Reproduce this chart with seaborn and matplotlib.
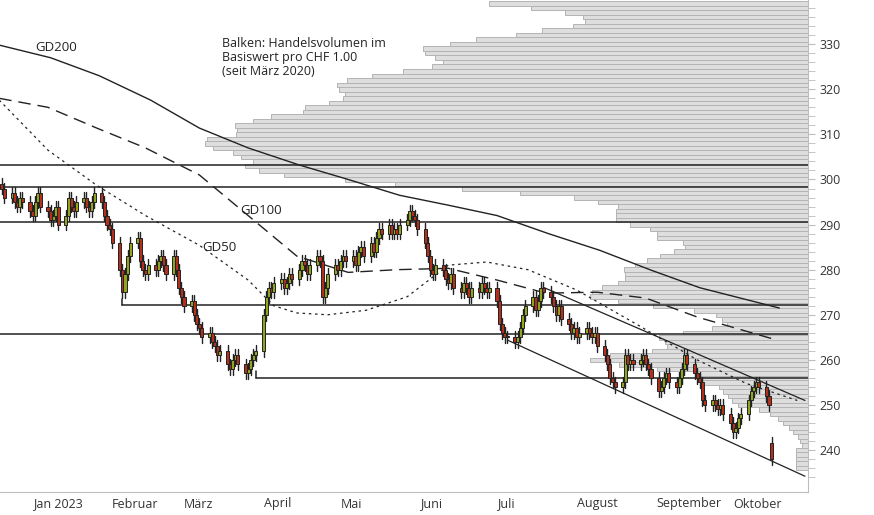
import numpy as np
import pandas as pd
import matplotlib
matplotlib.use("Agg")
import matplotlib.pyplot as plt
import matplotlib.dates as mdates
import matplotlib.transforms as mtrans
import seaborn as sns

# --- Tagesschlusskurse (ab 22.12.2022, Handelstage) ---
closes = [298, 296,
          297, 295, 294, 296, 295,
          293, 292, 295, 297, 294,
          293, 291, 292, 294, 290,
          292, 296, 294, 293, 295,
          296, 294, 293, 295, 297,
          295, 292, 290, 289, 286,
          280, 275, 279, 283, 286,
          287, 282, 280, 279, 281,
          280, 282, 283, 281, 279,
          283, 280, 276, 274, 272,
          273, 270, 268, 267, 265,
          266, 264, 263, 261, 262,
          259, 258, 260, 261, 259,
          257, 258, 260, 261, 262,
          270, 274, 276, 275, 277,
          278, 276, 277, 279, 278,
          280, 282, 281, 279, 281,
          283, 282, 274, 276, 279,
          281, 280, 282, 283, 282,
          283, 281, 284, 285, 283,
          286, 284, 287, 289, 288,
          290, 288, 289, 288, 290,
          291, 293, 292, 291, 289,
          286, 283, 280, 279, 281,
          280, 278, 277, 279, 276,
          275, 277, 276, 274, 276,
          275, 277, 276, 275, 276,
          273, 268, 266, 265, 265,
          264, 265, 267, 270, 272,
          274, 271, 273, 276, 275,
          274, 272, 270, 272, 269,
          268, 266, 267, 265, 266,
          267, 266, 265, 266, 263,
          261, 259, 256, 255, 254,
          255, 261, 259, 260, 259,
          260, 261, 259, 258, 256,
          253, 254, 256, 257, 255,
          254, 256, 258, 261, 259,
          257, 256, 255, 251, 250,
          251, 250, 249, 250, 248,
          246, 244, 245, 247, 248,
          251, 253, 254, 255, 254,
          252, 250, 238]
open_gaps = {len(closes) - 1: 241.5}

# gleitende Durchschnitte (Stützpunkte)
gd200_dates = ["2022-12-21", "2023-01-10", "2023-01-29", "2023-02-18", "2023-03-09",
               "2023-03-28", "2023-04-17", "2023-05-06", "2023-05-26", "2023-06-14",
               "2023-07-03", "2023-07-23", "2023-08-12", "2023-09-01", "2023-09-20",
               "2023-10-21"]
gd200_vals = [329.8, 327, 323, 317.6, 311.4, 307, 303.2, 300, 296.5, 294.3,
              292, 288, 284.3, 279.9, 276, 271.5]
gd100_dates = ["2022-12-21", "2023-01-09", "2023-01-28", "2023-02-16", "2023-03-09",
               "2023-03-28", "2023-04-16", "2023-05-06", "2023-05-25", "2023-06-14",
               "2023-07-03", "2023-07-22", "2023-08-11", "2023-08-30", "2023-09-19",
               "2023-10-20"]
gd100_vals = [318, 316, 311.4, 307, 301, 292, 283, 279.4, 280, 280.3,
              277.7, 274.8, 275, 273.7, 269.5, 264.4]
gd50_dates = ["2022-12-21", "2023-01-09", "2023-01-28", "2023-02-16", "2023-03-09",
              "2023-03-28", "2023-04-07", "2023-04-16", "2023-04-28", "2023-05-13",
              "2023-05-29", "2023-06-14", "2023-06-29", "2023-07-15", "2023-08-03",
              "2023-08-27", "2023-09-19", "2023-10-08", "2023-10-28"]
gd50_vals = [317.6, 306.5, 298.7, 292, 285.4, 277.7, 272, 270.4, 270, 271,
             274, 281, 281.7, 280, 275.5, 267.7, 260, 254.8, 251]

# Volumenprofil (Preis 339 abwärts bis 236)
profile_prices = list(range(339, 235, -1))
profile_volume = [319, 277, 243, 225, 223, 235, 266, 292, 332, 358,
                  385, 383, 373, 365, 376, 405, 436, 461, 471, 469,
                  463, 465, 479, 503, 505, 537, 555, 573, 571, 572,
                  601, 603, 595, 575, 567, 555, 563, 549, 524, 463,
                  413, 346, 288, 234, 210, 190, 192, 192, 192, 178,
                  158, 151, 151,
                  125, 123, 134, 148, 161, 173, 184, 183, 183, 190,
                  206, 216, 218, 190, 155, 114, 92, 86, 81, 96,
                  125, 149, 143, 141, 156, 198, 218, 189, 151, 113,
                  108, 106, 89, 85, 80, 76, 70, 49, 38, 30,
                  25, 19, 15, 10, 8, 6, 12, 12, 12, 12, 12]

# Unterstützungen / Widerstände: (Preis, Startdatum)
levels = [(303.2, None), (298.4, None), (290.5, None),
          (272.1, "2023-02-07"), (265.7, None), (256.0, "2023-03-31")]
channel_upper = (["2023-07-21", "2023-10-31"], [276.1, 251.0])
channel_lower = (["2023-07-07", "2023-10-31"], [264.4, 234.2])

months = ["Jan 2023", "Februar", "März", "April", "Mai", "Juni", "Juli",
          "August", "September", "Oktober"]

# ---------------------------------------------------------------
sns.set_style("white")
plt.rcParams["font.family"] = ["Open Sans", "DejaVu Sans"]

fig = plt.figure(figsize=(8.74, 5.15), dpi=100)
ax = fig.add_axes([0, 23 / 515, 808 / 874, 492 / 515])

x0 = mdates.date2num(pd.Timestamp("2023-01-01")) - 10.7
x1 = x0 + 808 / 2.566
ax.set_xlim(x0, x1)
ax.set_ylim(230.7, 339.8)

# Volumenprofil
scale = (x1 - x0) / 808
vol = np.array(profile_volume) * scale
ax.barh(profile_prices, vol, left=x1 - vol, height=1.0, color="#dedede",
        edgecolor="#b4b4b4", linewidth=0.7, zorder=1)

# Linien
for price, start in levels:
    xs = x0 if start is None else mdates.date2num(pd.Timestamp(start))
    ax.plot([xs, x1], [price, price], color="#222222", lw=1.1, zorder=3)
    if start is not None:
        ax.plot([xs, xs], [price, price + 1.5], color="#222222", lw=1.1, zorder=3)
for d, v in (channel_upper, channel_lower):
    ax.plot(mdates.date2num(pd.to_datetime(d)), v, color="#222222", lw=0.9, zorder=3)

sns.lineplot(x=mdates.date2num(pd.to_datetime(gd200_dates)), y=gd200_vals, ax=ax,
             color="#222222", lw=1.0, zorder=3)
ax.plot(mdates.date2num(pd.to_datetime(gd100_dates)), gd100_vals, color="#222222",
        lw=1.0, dashes=(9, 5), zorder=3)
ax.plot(mdates.date2num(pd.to_datetime(gd50_dates)), gd50_vals, color="#222222",
        lw=0.9, dashes=(2, 3), zorder=3)

# Kerzen
dates = pd.bdate_range("2022-12-22", periods=len(closes))
xd = mdates.date2num(dates)
for i, c in enumerate(closes):
    o = open_gaps.get(i, closes[i - 1] if i > 0 else c + 1)
    hi, lo = max(o, c) + 1.3, min(o, c) - 1.3
    col = "#8fa51c" if c >= o else "#b3301c"
    ax.plot([xd[i], xd[i]], [lo, hi], color="#222222", lw=1.0, zorder=4)
    ax.bar(xd[i], max(abs(c - o), 0.3), bottom=min(o, c), width=1.2, color=col,
           edgecolor="#222222", linewidth=0.7, zorder=5)

# Texte
ax.text(mdates.date2num(pd.Timestamp("2023-01-04")), 327.9, "GD200", fontsize=9.5,
        color="#222222", va="bottom")
ax.text(mdates.date2num(pd.Timestamp("2023-03-25")), 292.4, "GD100", fontsize=9.5, color="#222222")
ax.text(mdates.date2num(pd.Timestamp("2023-03-10")), 284.2, "GD50", fontsize=9.5, color="#222222")
ax.text(mdates.date2num(pd.Timestamp("2023-03-18")), 331.5,
        "Balken: Handelsvolumen im\nBasiswert pro CHF 1.00\n(seit März 2020)",
        fontsize=9, color="#222222", va="top", linespacing=1.1)

# Achsen
for s in ["top", "left"]:
    ax.spines[s].set_visible(False)
for s in ["right", "bottom"]:
    ax.spines[s].set_color("#bdbdbd")
ax.yaxis.tick_right()
ax.set_yticks(range(240, 331, 10))
ax.set_yticks(range(234, 340, 2), minor=True)
ax.tick_params(axis="y", which="both", direction="out", length=5, color="#bdbdbd",
               labelsize=9, labelcolor="#333333", right=True, left=False)
month_starts = pd.date_range("2023-01-01", "2023-10-01", freq="MS")
ax.set_xticks(mdates.date2num(month_starts))
ax.set_xticklabels([])
ax.tick_params(axis="x", which="major", direction="out", length=17, color="#d0d0d0")
trans = mtrans.blended_transform_factory(ax.transData, fig.transFigure)
for m, lab in zip(month_starts, months):
    ax.text(mdates.date2num(m) + 2, 11 / 515, lab, transform=trans, fontsize=9,
            color="#333333", va="center", ha="left")
ax.set_xlabel("")
ax.set_ylabel("")

fig.savefig("out.png", dpi=100)
